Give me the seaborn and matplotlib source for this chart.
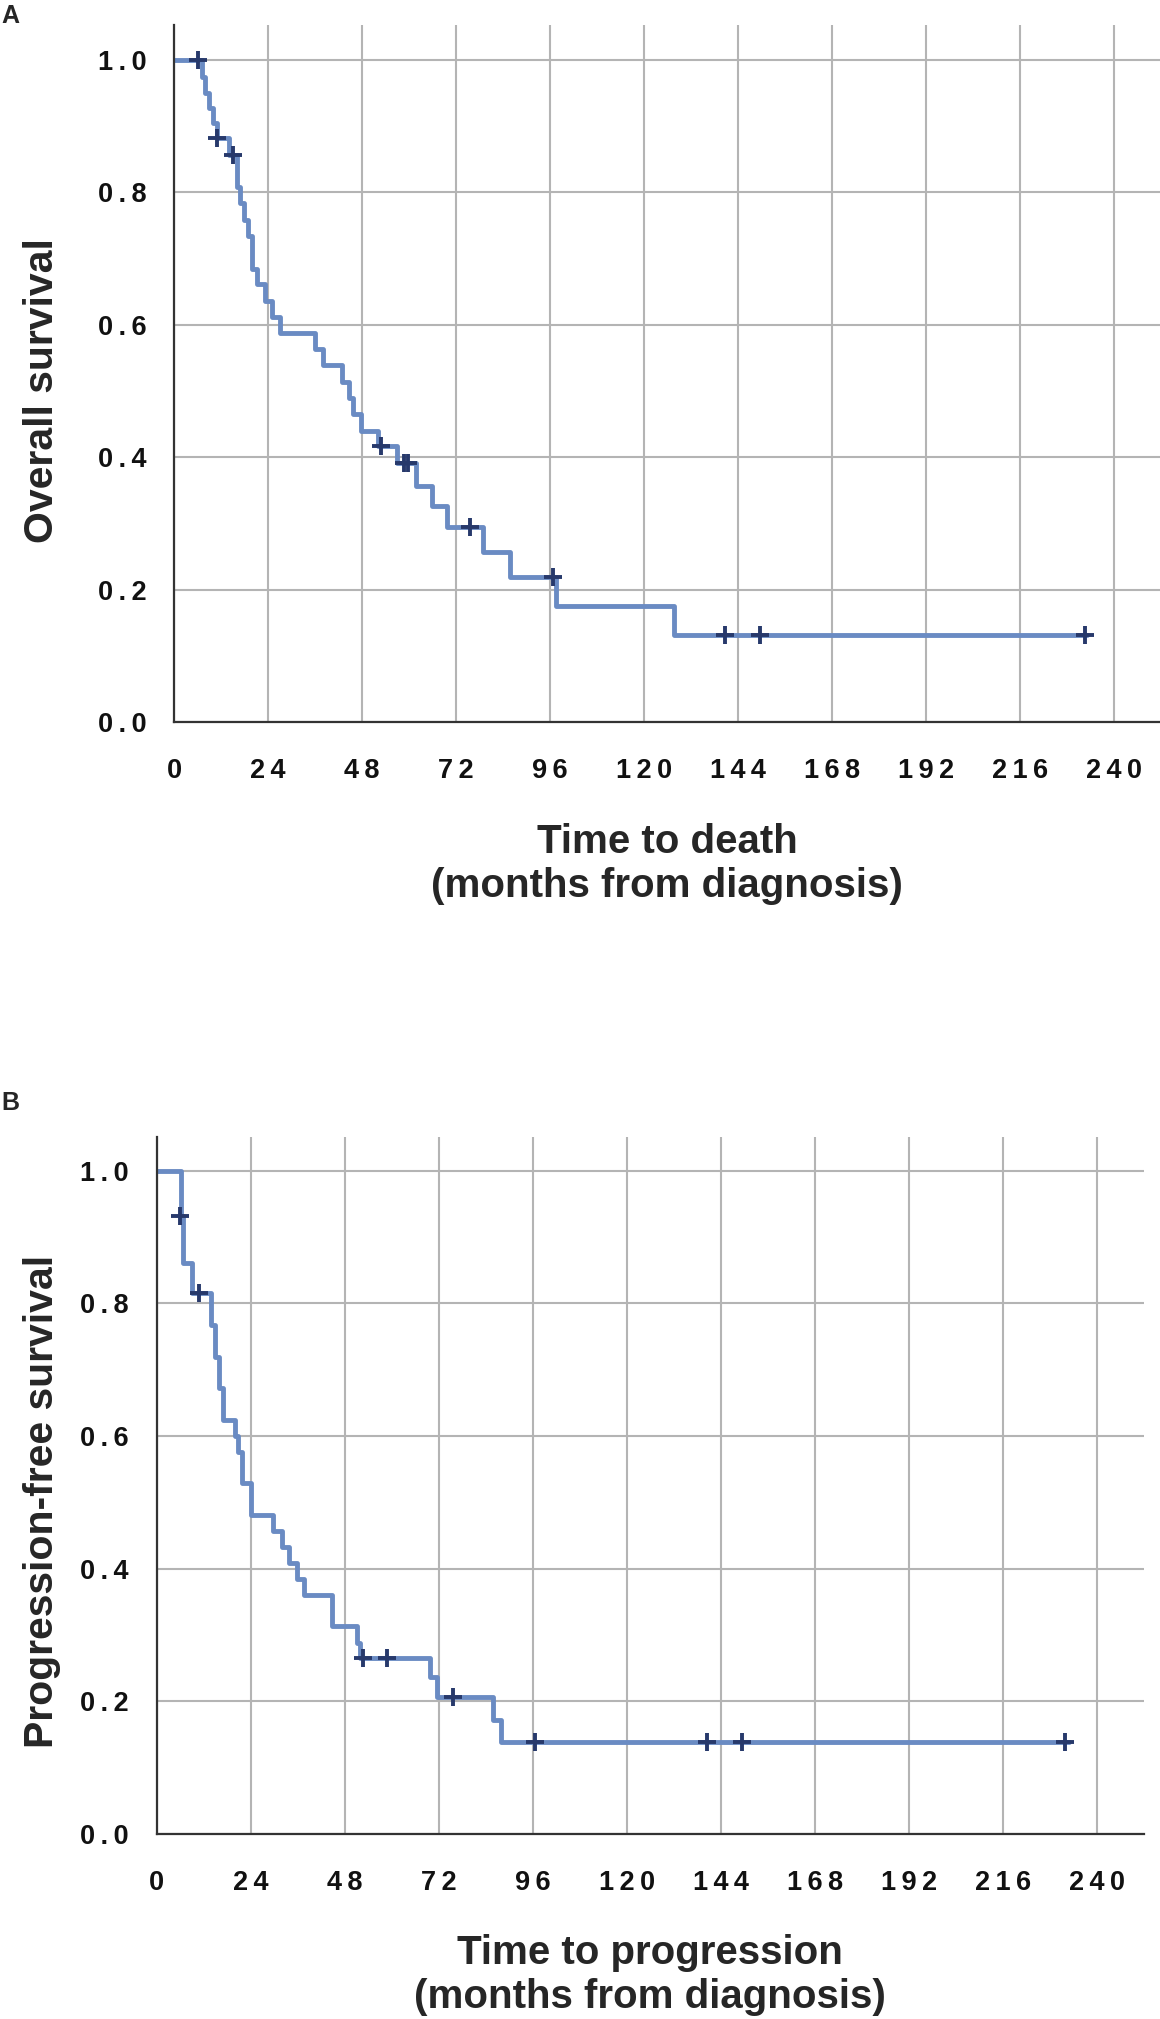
import matplotlib
matplotlib.use('Agg')
import matplotlib.pyplot as plt
import seaborn as sns
from matplotlib.ticker import FixedLocator

sns.set_style('white')
plt.rcParams['font.family'] = ['Liberation Sans', 'DejaVu Sans']
plt.rcParams['font.weight'] = 'bold'

# Overall survival (panel A): step times (months) and survival after each step
os_time = [0, 7.1, 7.9, 9.0, 10.0, 10.9, 14.1, 16.0, 16.9, 17.9, 19.0, 20.0, 21.1,
           23.2, 24.9, 27.1, 36.0, 38.0, 43.0, 44.8, 45.8, 47.7, 52.2, 56.9, 61.7,
           65.8, 69.6, 78.8, 85.8, 97.5, 127.7, 233.0]
os_surv = [1.0, 0.975, 0.950, 0.927, 0.905, 0.882, 0.857, 0.809, 0.784, 0.759, 0.734,
           0.684, 0.661, 0.636, 0.612, 0.588, 0.563, 0.539, 0.514, 0.490, 0.465, 0.440,
           0.417, 0.391, 0.357, 0.326, 0.294, 0.257, 0.219, 0.175, 0.132, 0.132]
os_cens_time = [6.2, 10.9, 15.0, 52.8, 58.7, 59.8, 75.7, 96.8, 140.7, 149.6, 232.5]
os_cens_surv = [1.0, 0.882, 0.857, 0.417, 0.391, 0.391, 0.294, 0.219, 0.132, 0.132, 0.132]

# Progression-free survival (panel B)
pfs_time = [0, 6.1, 6.8, 8.9, 13.9, 14.9, 15.9, 17.0, 20.0, 20.8, 21.8, 24.0, 29.8,
            31.9, 33.9, 35.7, 37.7, 44.8, 51.1, 51.9, 69.8, 71.6, 85.9, 87.8, 233.0]
pfs_surv = [1.0, 0.931, 0.861, 0.815, 0.767, 0.719, 0.672, 0.624, 0.600, 0.576, 0.529,
            0.481, 0.456, 0.432, 0.408, 0.384, 0.360, 0.313, 0.288, 0.265, 0.236, 0.207,
            0.172, 0.139, 0.139]
pfs_cens_time = [6.0, 10.9, 52.8, 58.7, 75.7, 96.6, 140.6, 149.5, 232.0]
pfs_cens_surv = [0.931, 0.815, 0.265, 0.265, 0.207, 0.139, 0.139, 0.139, 0.139]

x_ticks = [0, 24, 48, 72, 96, 120, 144, 168, 192, 216, 240]
x_labels = ['0', '24', '48', '72', '96', '120', '144', '168', '192', '216', '240']
y_ticks = [0.0, 0.2, 0.4, 0.6, 0.8, 1.0]
y_labels = ['0.0', '0.2', '0.4', '0.6', '0.8', '1.0']

line_color = '#6a8bc3'
cens_color = '#27396b'
grid_color = '#b4b4b4'


def spaced(s):
    # the reference uses wide letter spacing on tick labels
    return '\u2009'.join(s)


def draw_km(ax, t, s, ct, cs, ytop):
    sns.lineplot(x=t, y=s, ax=ax, drawstyle='steps-post', color=line_color,
                 linewidth=3.5, zorder=3)
    sns.scatterplot(x=ct, y=cs, ax=ax, marker='+', s=165, linewidth=2.8,
                    color=cens_color, zorder=4)
    ax.set_xlim(0, 252)
    ax.set_ylim(0, ytop)
    ax.xaxis.set_major_locator(FixedLocator(x_ticks))
    ax.yaxis.set_major_locator(FixedLocator(y_ticks))
    ax.xaxis.set_minor_locator(FixedLocator([12 + 24 * i for i in range(11)]))
    ax.yaxis.set_minor_locator(FixedLocator([0.1, 0.3, 0.5, 0.7, 0.9]))
    ax.set_xticklabels([spaced(l) for l in x_labels], fontsize=19.5, fontweight='bold')
    ax.set_yticklabels([spaced(l) for l in y_labels], fontsize=19.5, fontweight='bold')
    ax.grid(True, which='major', color=grid_color, linewidth=1.5, zorder=0)
    ax.set_axisbelow(True)
    ax.tick_params(which='major', direction='out', length=14, width=1.5,
                   color=grid_color, pad=6, labelcolor='#111111')
    ax.tick_params(which='minor', direction='out', length=6.5, width=1.4,
                   color='#222222')
    ax.tick_params(axis='x', which='major', pad=12)
    for side in ['top', 'right']:
        ax.spines[side].set_visible(False)
    for side in ['left', 'bottom']:
        ax.spines[side].set_color('#333333')
        ax.spines[side].set_linewidth(1.6)
        ax.spines[side].set_zorder(5)
    ax.set_xlabel('')
    ax.set_ylabel('')


W, H = 1160, 2019
fig = plt.figure(figsize=(W / 100, H / 100), dpi=100)

# panel A
ax1 = fig.add_axes([174 / W, 1 - 722 / H, 987 / W, 697 / H])
draw_km(ax1, os_time, os_surv, os_cens_time, os_cens_surv, 1.053)
fig.text(42 / W, 1 - 391 / H, 'Overall survival', rotation=90, ha='center',
         va='center', fontsize=29.5, fontweight='bold')
# va='baseline' on two lines anchors the baseline of the last line
fig.text(667 / W, 1 - 897 / H, 'Time to death\n(months from diagnosis)', ha='center',
         va='baseline', fontsize=29, fontweight='bold', linespacing=1.2)
fig.text(1 / W, 1 - 16 / H, 'A', ha='left', va='center', fontsize=18, fontweight='bold')

# panel B
ax2 = fig.add_axes([156.7 / W, 1 - 1834 / H, 987 / W, 697.3 / H])
draw_km(ax2, pfs_time, pfs_surv, pfs_cens_time, pfs_cens_surv, 1.051)
fig.text(42 / W, 1 - 1501 / H, 'Progression-free survival', rotation=90, ha='center',
         va='center', fontsize=29.5, fontweight='bold')
fig.text(650 / W, 1 - 2008 / H, 'Time to progression\n(months from diagnosis)',
         ha='center', va='baseline', fontsize=29, fontweight='bold', linespacing=1.2)
fig.text(1 / W, 1 - 1103 / H, 'B', ha='left', va='center', fontsize=18, fontweight='bold')

fig.savefig('out.png', dpi=100)
